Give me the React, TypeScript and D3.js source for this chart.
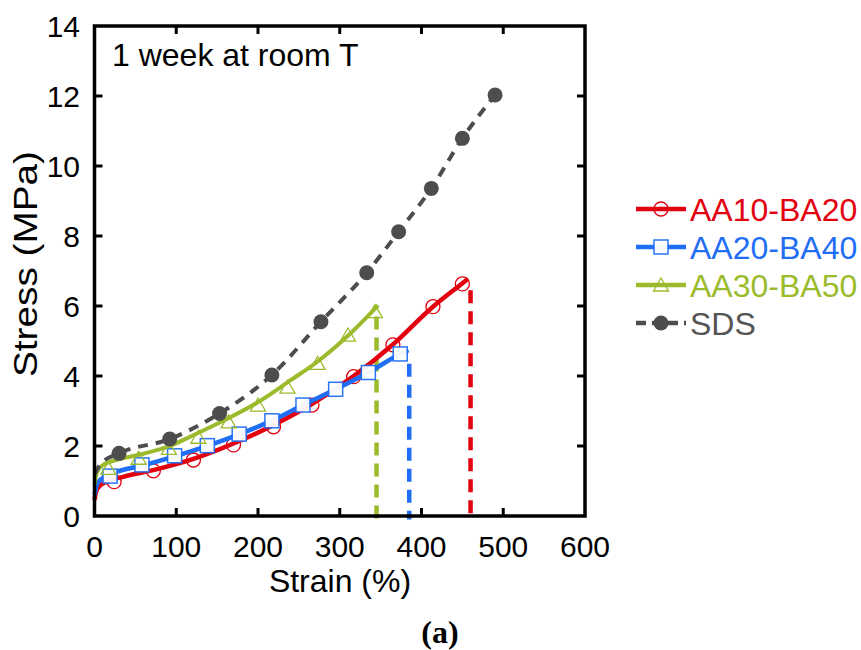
import React from "react";
import * as d3 from "d3";

// ---- data ----
const redLine: [number, number][] = [
  [0, 0.45], [2, 0.7], [6, 0.85], [15, 0.98], [35, 1.12], [72, 1.31], [121, 1.63],
  [170, 2.07], [219, 2.6], [266, 3.2], [317, 4.0], [365, 4.9],
  [414, 5.98], [450, 6.65], [457, 6.78],
];
const redMarks: [number, number][] = [
  [24, 0.98], [72, 1.29], [121, 1.6], [170, 2.03], [219, 2.55], [266, 3.17],
  [317, 3.98], [365, 4.89], [414, 5.98], [450, 6.63],
];
const blueLine: [number, number][] = [
  [0, 0.6], [3, 0.9], [8, 1.05], [20, 1.2], [60, 1.45], [100, 1.72], [140, 2.02],
  [180, 2.36], [220, 2.76], [255, 3.17], [295, 3.62], [335, 4.1], [374, 4.63], [384, 4.74],
];
const blueMarks: [number, number][] = [
  [19, 1.14], [58, 1.46], [98, 1.72], [138, 2.01], [177, 2.34], [217, 2.72],
  [255, 3.17], [295, 3.62], [335, 4.1], [374, 4.63],
];
const greenLine: [number, number][] = [
  [0, 0.9], [3, 1.25], [10, 1.45], [30, 1.62], [60, 1.78], [90, 1.98], [120, 2.3],
  [160, 2.75], [200, 3.25], [240, 3.88], [275, 4.45], [310, 5.15], [347, 6.02],
];
const greenMarks: [number, number][] = [
  [17, 1.36], [54, 1.65], [91, 1.93], [127, 2.25], [164, 2.69], [200, 3.17],
  [236, 3.68], [273, 4.36], [310, 5.17], [343, 5.84],
];
const sdsMarks: [number, number][] = [
  [30, 1.79], [92, 2.2], [153, 2.93], [217, 4.03], [277, 5.55], [333, 6.95],
  [372, 8.12], [412, 9.36], [450, 10.79], [490, 12.03],
];
const sdsLine: [number, number][] = [[0, 1.18], [8, 1.5], ...sdsMarks];

// failure lines: [strain, top stress]
const failRed: [number, number] = [460, 6.45];
const failBlue: [number, number] = [385, 4.35];
const failGreen: [number, number] = [345, 5.7];

const xTicks = [0, 100, 200, 300, 400, 500, 600];
const yTicks = [0, 2, 4, 6, 8, 10, 12, 14];
const seriesNames = ["AA10-BA20", "AA20-BA40", "AA30-BA50", "SDS"];

const RED = "#e3000f";
const BLUE = "#1f6ef5";
const GREEN = "#9bbb2c";
const GRAY = "#4d4d4d";

const FONT = "Liberation Sans, Arial, sans-serif";

export default function App() {
  const x = d3.scaleLinear().domain([0, 600]).range([94.5, 585]);
  const y = d3.scaleLinear().domain([0, 14]).range([516, 26]);
  const line = d3
    .line<[number, number]>()
    .x((d) => x(d[0]))
    .y((d) => y(d[1]))
    .curve(d3.curveMonotoneX);

  const circle = (cx: number, cy: number, stroke: string, key: any, fill = "none") => (
    <circle key={key} cx={cx} cy={cy} r={7} fill={fill} stroke={stroke} strokeWidth={1.3} />
  );
  const square = (cx: number, cy: number, key: any) => (
    <rect key={key} x={cx - 7} y={cy - 7} width={14} height={14} fill="#fff" stroke={BLUE} strokeWidth={1.5} opacity={0.95} />
  );
  const tri = (cx: number, cy: number, key: any) => (
    <path key={key} d={`M${cx},${cy - 7}L${cx + 7.5},${cy + 6}L${cx - 7.5},${cy + 6}Z`} fill="none" stroke={GREEN} strokeWidth={1.3} />
  );
  const dot = (cx: number, cy: number, key: any) => (
    <circle key={key} cx={cx} cy={cy} r={7.5} fill={GRAY} />
  );

  const failLine = (f: [number, number], color: string) => (
    <line x1={x(f[0])} x2={x(f[0])} y1={y(f[1])} y2={y(-0.1)} stroke={color} strokeWidth={4.5} strokeDasharray="13,8" />
  );

  const legY = [209, 247, 285, 323];
  const legColors = [RED, BLUE, GREEN, "#555"];

  return (
    <svg width={861} height={650} style={{ display: "block", position: "absolute", left: 0, top: 0 }}>
      <rect width={861} height={650} fill="#fff" />
      {/* failure lines */}
      {failLine(failGreen, GREEN)}
      {failLine(failBlue, BLUE)}
      {failLine(failRed, RED)}

      {/* red */}
      <path d={line(redLine)!} fill="none" stroke={RED} strokeWidth={4.5} />
      {redMarks.map((d, i) => circle(x(d[0]), y(d[1]), RED, "r" + i))}
      {/* blue */}
      <path d={line(blueLine)!} fill="none" stroke={BLUE} strokeWidth={4.5} />
      {blueMarks.map((d, i) => square(x(d[0]), y(d[1]), "b" + i))}
      {/* green */}
      {greenMarks.map((d, i) => tri(x(d[0]), y(d[1]), "g" + i))}
      <path d={line(greenLine)!} fill="none" stroke={GREEN} strokeWidth={4} />
      {/* SDS */}
      <path d={line(sdsLine)!} fill="none" stroke={GRAY} strokeWidth={4} strokeDasharray="10,8" />
      {sdsMarks.map((d, i) => dot(x(d[0]), y(d[1]), "s" + i))}

      {/* frame */}
      <rect x={94.5} y={26} width={585 - 94.5} height={516 - 26} fill="none" stroke="#000" strokeWidth={3.5} />
      {xTicks.slice(1, -1).map((t) => (
        <g key={"xt" + t}>
          <line x1={x(t)} x2={x(t)} y1={516} y2={508} stroke="#000" strokeWidth={3} />
          <line x1={x(t)} x2={x(t)} y1={26} y2={34} stroke="#000" strokeWidth={3} />
        </g>
      ))}
      {yTicks.slice(1, -1).map((t) => (
        <g key={"yt" + t}>
          <line x1={94.5} x2={102.5} y1={y(t)} y2={y(t)} stroke="#000" strokeWidth={3} />
          <line x1={585} x2={577} y1={y(t)} y2={y(t)} stroke="#000" strokeWidth={3} />
        </g>
      ))}
      {xTicks.map((t) => (
        <text key={"xl" + t} x={x(t)} y={557} textAnchor="middle" fontFamily={FONT} fontSize={30} fill="#000">
          {t}
        </text>
      ))}
      {yTicks.map((t) => (
        <text key={"yl" + t} x={80} y={y(t)} dy="0.36em" textAnchor="end" fontFamily={FONT} fontSize={30} fill="#000">
          {t}
        </text>
      ))}
      <text x={340} y={592} textAnchor="middle" fontFamily={FONT} fontSize={32} fill="#000">
        Strain (%)
      </text>
      <text
        transform="translate(37,264) rotate(-90)"
        textAnchor="middle"
        fontFamily={FONT}
        fontSize={33}
        textLength={226}
        lengthAdjust="spacingAndGlyphs"
        fill="#000"
      >
        Stress (MPa)
      </text>
      <text x={112} y={66} fontFamily={FONT} fontSize={32} fill="#000">
        1 week at room T
      </text>

      {/* legend */}
      {seriesNames.map((n, i) => (
        <g key={"leg" + i}>
          <line x1={636} x2={686} y1={legY[i]} y2={legY[i]} stroke={i === 3 ? GRAY : legColors[i]} strokeWidth={4.5} strokeDasharray={i === 3 ? "10,6" : undefined} />
          {i === 0 && circle(661, legY[i], RED, "lc")}
          {i === 1 && square(661, legY[i], "ls")}
          {i === 2 && tri(661, legY[i], "lt")}
          {i === 3 && dot(661, legY[i], "ld")}
          <text x={690} y={legY[i] + 12} fontFamily={FONT} fontSize={32} fill={legColors[i]}>
            {n}
          </text>
        </g>
      ))}

      <text x={440} y={643} textAnchor="middle" fontFamily="Liberation Serif, Times New Roman, serif" fontWeight="bold" fontSize={32} fill="#000">
        (a)
      </text>
    </svg>
  );
}
